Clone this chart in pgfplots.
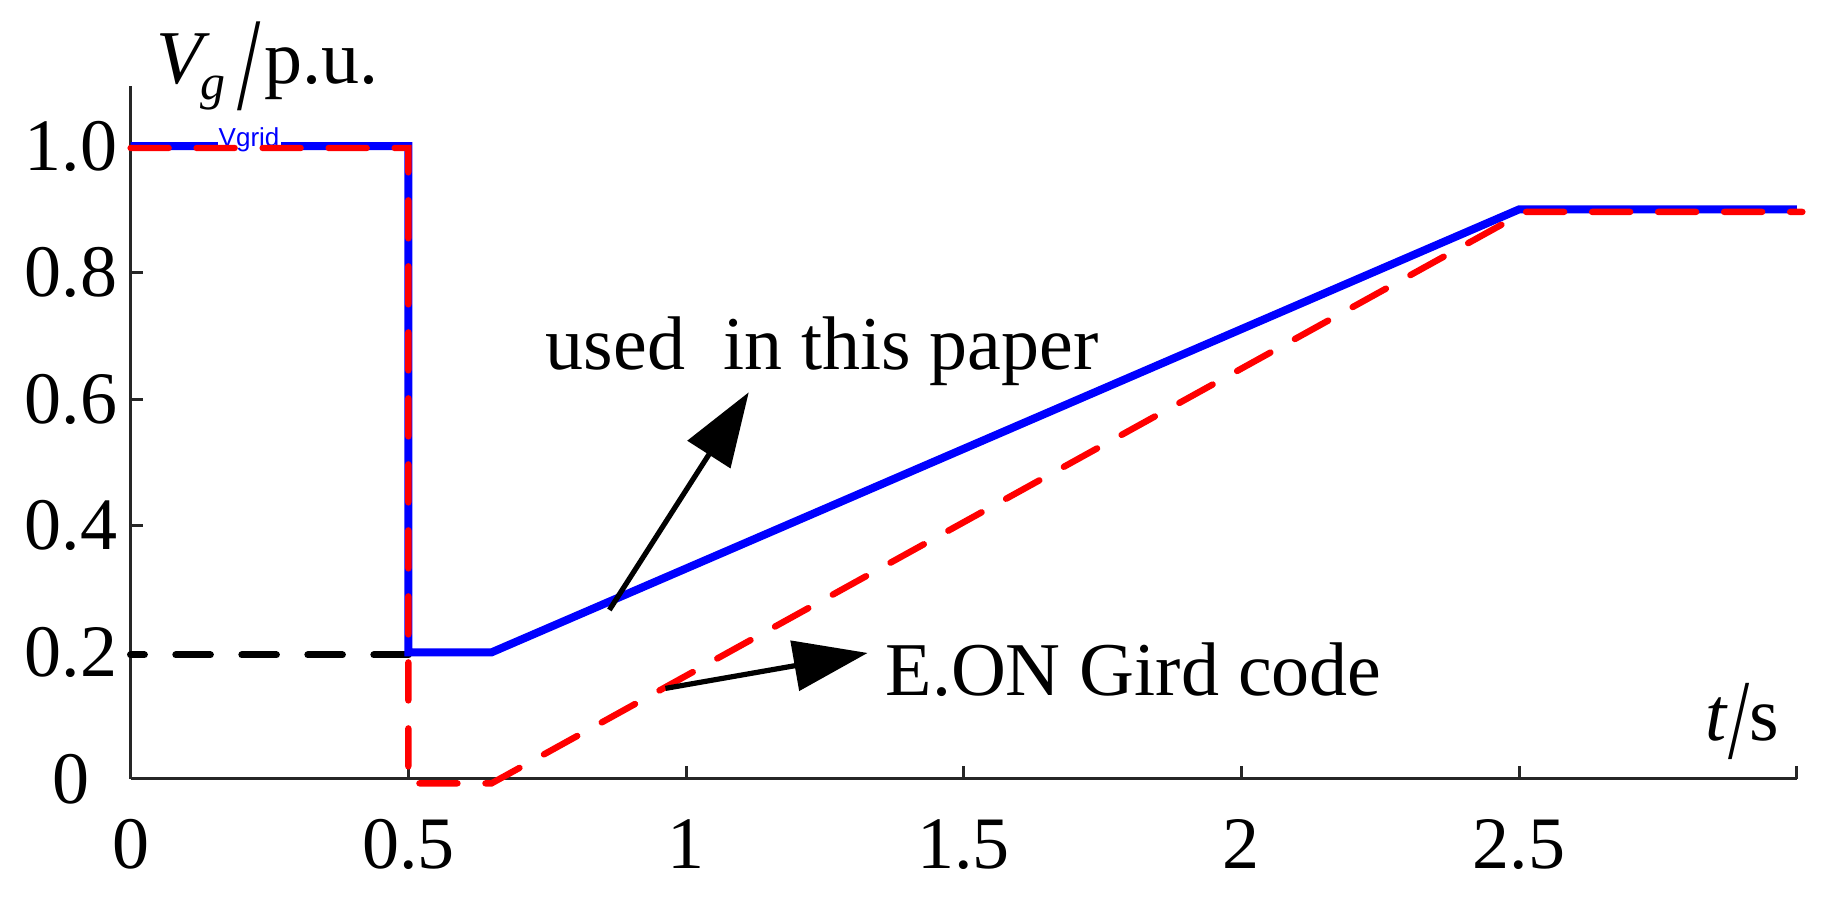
\documentclass[border=0pt]{standalone}
\usepackage{fontspec}
\setmainfont{Liberation Serif}
\newfontfamily\arial{Liberation Sans}
\usepackage{graphicx}
\usepackage{pgfplots}
\pgfplotsset{compat=1.18}
\usetikzlibrary{arrows.meta}
\definecolor{simblue}{RGB}{0,0,255}
\definecolor{simred}{RGB}{255,0,0}
\definecolor{axgray}{RGB}{38,38,38}

\begin{document}
\begin{tikzpicture}
\begin{axis}[
    scale only axis, width=416.5pt, height=173.2pt,
    xmin=0, xmax=3, ymin=0, ymax=1.095,
    axis x line*=bottom, axis y line*=left,
    axis line style={axgray, line width=0.8pt},
    xtick={0,0.5,1,1.5,2,2.5,3}, xticklabels={0,0.5,1,1.5,2,2.5,},
    ytick={0,0.2,0.4,0.6,0.8,1.0},
    yticklabels={\makebox[1.25em][c]{0},0.2,0.4,0.6,0.8,1.0},
    tick style={axgray, line width=0.75pt}, major tick length=3.2pt, tick align=inside,
    ticklabel style={font=\fontsize{18.5}{20}\selectfont},
    /pgf/number format/assume math mode=true,
    xticklabel style={inner sep=0pt, yshift=-10pt},
    yticklabel style={inner sep=0pt, xshift=-3.2pt},
    clip=false,
  ]
  % page size
  \path (axis cs:-0.2352,-0.190) rectangle (axis cs:3.0562,1.2309);

  % reference level 0.2
  \addplot[black, line width=1.8pt, dash pattern=on 8.6pt off 7.9pt, line cap=round]
    coordinates {(0.5,0.196) (0,0.196)};
  % used in this paper
  \addplot[simblue, line width=2pt]
    coordinates {(0,1.0) (0.5,1.0) (0.5,0.2) (0.65,0.2) (2.5,0.9) (3.0,0.9)};
  \node[anchor=base west, fill=white, inner sep=0.3pt, text=simblue,
        font=\arial\fontsize{6.5}{6.5}\selectfont] at (axis cs:0.155,1.0) {Vgrid};
  % E.ON grid code
  \addplot[simred, line width=1.6pt, dash pattern=on 9.5pt off 7pt, line cap=round]
    coordinates {(0,0.997) (0.5,0.997) (0.5,-0.007) (0.65,-0.007) (2.51,0.896) (3.01,0.896)};

  \draw[black, line width=1.3pt, -{Triangle[length=18.5pt, width=12.5pt]}]
    (axis cs:0.862,0.267) -- (axis cs:1.113,0.611);
  \draw[black, line width=1.3pt, -{Triangle[length=18.5pt, width=12.5pt]}]
    (axis cs:0.963,0.143) -- (axis cs:1.327,0.199);

  \node[anchor=base west, inner sep=0pt, font=\fontsize{19}{22}\selectfont]
    at (axis cs:0.746,0.647) {used\ \ in this paper};
  \node[anchor=base west, inner sep=0pt, font=\fontsize{19}{22}\selectfont]
    at (axis cs:1.358,0.131) {E.ON Gird code};

  \node[anchor=base west, inner sep=0pt, font=\fontsize{19}{22}\selectfont]
    at (axis cs:0.046,1.0997)
    {\textit{V}\kern-2.5pt\raisebox{-4.2pt}{\fontsize{12.5}{12.5}\selectfont\itshape g}\kern3pt\raisebox{-6.5pt}{\scalebox{1.1}[1.75]{/}}\kern1pt p.u.};
  \node[anchor=base west, inner sep=0pt, font=\fontsize{19}{22}\selectfont]
    at (axis cs:2.834,0.061)
    {\textit{t}\raisebox{-4.5pt}{\scalebox{1}[1.5]{/}}s};
\end{axis}
\end{tikzpicture}
\end{document}
